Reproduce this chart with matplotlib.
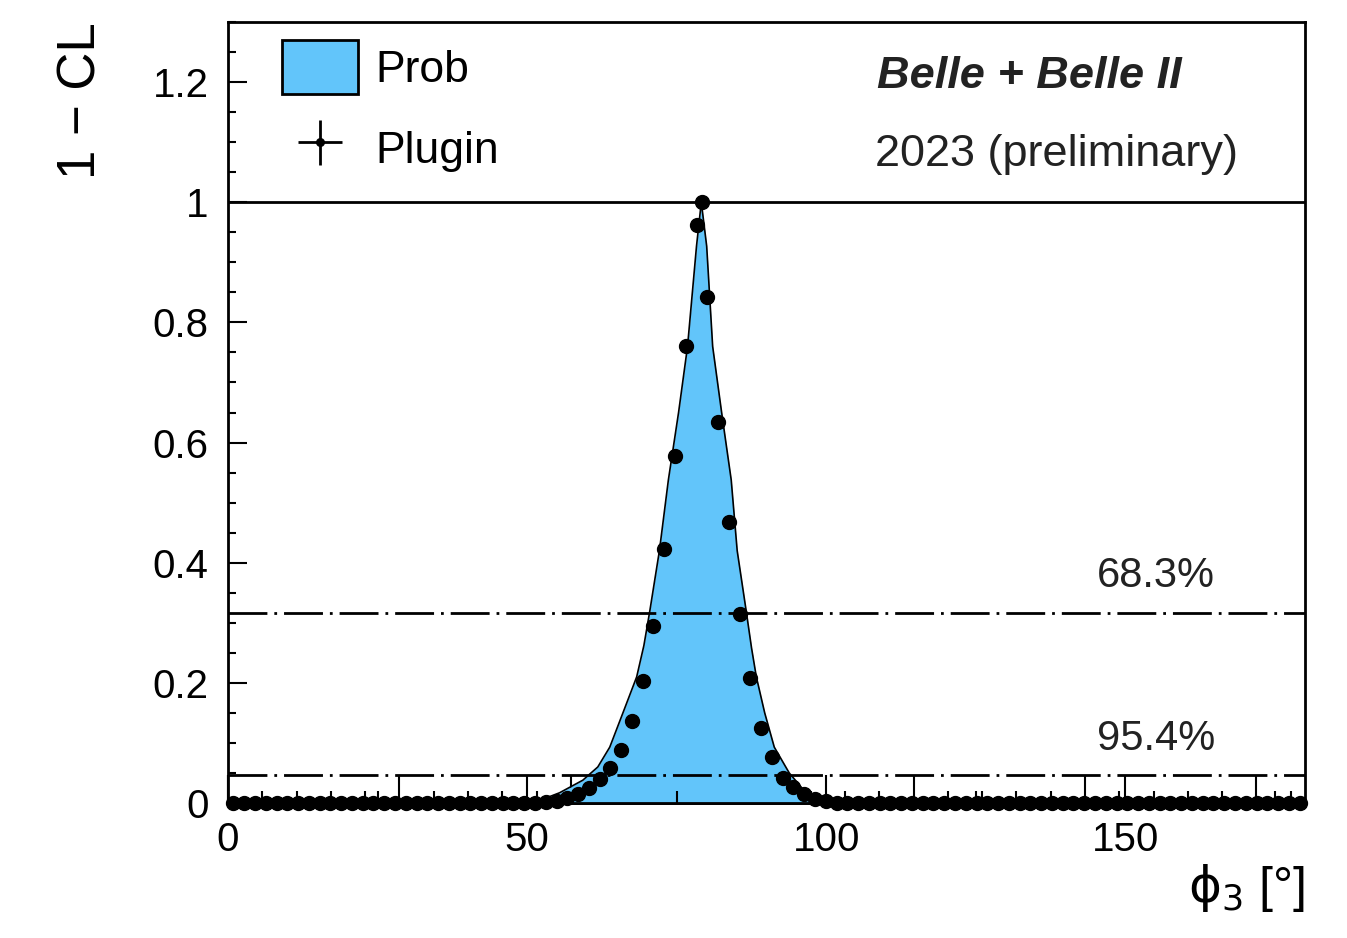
import numpy as np
import matplotlib
matplotlib.use("Agg")
import matplotlib.pyplot as plt
from matplotlib.ticker import MultipleLocator, FixedLocator, FuncFormatter

plt.rcParams['font.family'] = ['Liberation Sans', 'DejaVu Sans']
plt.rcParams['mathtext.fontset'] = 'dejavusans'

# Prob curve (1-CL vs phi3)
prob_x = [0, 40, 48, 52, 55.4, 59.3, 61.8, 63.8, 66.0, 68.3, 69.5, 70.5, 72.1, 73.6, 75.3,
          76.8, 78.3, 79.1, 80.0, 81.0, 82.5, 84.1, 85.1, 86.6, 87.5, 88.3, 89.7, 91.3,
          93.8, 96.6, 100, 104, 110, 180]
prob_y = [0, 0, 0.001, 0.004, 0.017, 0.038, 0.06, 0.093, 0.15, 0.21, 0.262, 0.32, 0.42, 0.538, 0.65,
          0.76, 0.927, 1.0, 0.927, 0.76, 0.65, 0.538, 0.42, 0.32, 0.258, 0.21, 0.15, 0.093,
          0.05, 0.017, 0.004, 0.001, 0, 0]

# Plugin scan: 100 bins of 1.8 deg, values per bin centre
n_bins = 100
bin_width = 1.8
plugin_y = ([0.0] * 29 +
            [0.002, 0.004, 0.008, 0.015, 0.025, 0.040, 0.058, 0.088, 0.137, 0.203,
             0.295, 0.423, 0.577, 0.760, 0.962, 0.842, 0.635, 0.467, 0.315, 0.208,
             0.125, 0.077, 0.042, 0.026, 0.015, 0.007, 0.003] +
            [0.0] * 44)
best_x = 79.3
best_y = 1.0

cl_levels = [0.317, 0.046]
cl_labels = ['68.3%', '95.4%']

fill_color = '#62c5fa'
text_color = '#222222'

fig = plt.figure(figsize=(13.47, 9.38), dpi=100)
ax = fig.add_axes([0.1693, 0.1439, 0.7995, 0.8326])

ax.fill_between(prob_x, prob_y, color=fill_color, lw=0, label='Prob', zorder=1)
ax.plot(prob_x, prob_y, color='k', lw=1.2, zorder=2)

plugin_x = np.arange(n_bins) * bin_width + bin_width / 2
px = np.append(plugin_x, best_x)
py = np.append(plugin_y, best_y)
zeros = np.zeros_like(px)
eb = ax.errorbar(px, py, xerr=zeros, yerr=zeros, fmt='o', color='k', ms=10,
                 elinewidth=2, label='Plugin', zorder=4)
eb.lines[0].set_clip_on(False)

# reference lines
ax.axhline(1.0, color='k', lw=2, zorder=3)
for lev, lab in zip(cl_levels, cl_labels):
    ax.axhline(lev, color='k', lw=2, linestyle=(0, (14, 2.5, 1, 2.5)), zorder=3)
    ax.text(165.0, lev + 0.027, lab, ha='right', va='bottom', fontsize=30, color=text_color)

ax.set_xlim(0, 180)
ax.set_ylim(0, 1.3)

# degree axis
ax.xaxis.set_major_locator(FixedLocator([0, 50, 100, 150]))
ax.xaxis.set_minor_locator(FixedLocator([25, 75, 125, 175]))
ax.yaxis.set_major_locator(MultipleLocator(0.2))
ax.yaxis.set_minor_locator(MultipleLocator(0.05))
ax.yaxis.set_major_formatter(FuncFormatter(lambda v, p: '%g' % round(v, 2)))
ax.tick_params(axis='x', which='major', direction='in', length=20, width=1.5,
               labelsize=29, pad=13)
ax.tick_params(axis='x', which='minor', direction='in', length=9, width=1.5)
ax.tick_params(axis='y', which='major', direction='in', length=14, width=1.5,
               labelsize=29, pad=14)
ax.tick_params(axis='y', which='minor', direction='in', length=6, width=1.5)

# radian ticks drawn by the frame underneath
sec = ax.secondary_xaxis('bottom', functions=(np.radians, np.degrees))
sec.xaxis.set_major_locator(MultipleLocator(0.5))
sec.xaxis.set_minor_locator(MultipleLocator(0.1))
sec.tick_params(which='major', direction='in', length=20, width=1.5, labelbottom=False)
sec.tick_params(which='minor', direction='in', length=9, width=1.5)
sec.spines['bottom'].set_linewidth(2)

for s in ax.spines.values():
    s.set_linewidth(2)

ax.set_ylabel('1 \u2212 CL', fontsize=38, loc='top', labelpad=33)
ax.set_xlabel('$\\mathrm{\u03d5}_3$ [°]', fontsize=36, loc='right', labelpad=2)

ax.text(108.5, 1.19, 'Belle + Belle II', fontsize=32.5, fontweight='bold',
        fontstyle='italic', color=text_color)
ax.text(108.2, 1.06, '2023 (preliminary)', fontsize=32.5, color=text_color)

leg = ax.legend(loc='upper left', bbox_to_anchor=(0.034, 1.0), frameon=False,
                fontsize=32, handlelength=1.7, handleheight=1.5, handletextpad=0.4,
                labelspacing=0.62, markerscale=0.55, borderaxespad=0.0)
for h in leg.legend_handles:
    if hasattr(h, 'set_edgecolor'):
        h.set_edgecolor('k')
        h.set_linewidth(2)

fig.savefig('out.png', dpi=100)
